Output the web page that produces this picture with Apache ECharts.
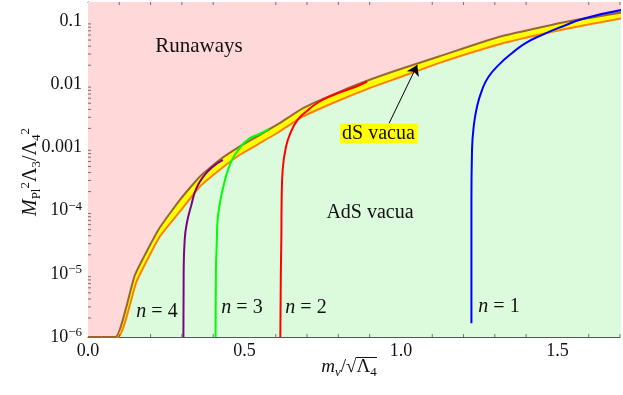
<!DOCTYPE html>
<html>
<head>
<meta charset="utf-8">
<script src="https://cdn.jsdelivr.net/npm/echarts@6/dist/echarts.min.js"></script>
<style>
  html, body { margin: 0; padding: 0; background: #fff; }
  #chart { width: 623px; height: 395px; }
</style>
</head>
<body>
<div id="chart"></div>
<script>
// edges of the dS band: [m / sqrt(Lambda4), M^2 Lambda3 / Lambda4^2]
var upperEdge = [[0, 1e-6], [0.088, 1e-6], [0.150, 9.6e-6], [0.226, 5.06e-5], [0.293, 1.47e-4], [0.357, 3.44e-4],
  [0.420, 6.33e-4], [0.484, 1.03e-3], [0.548, 1.57e-3], [0.611, 2.40e-3], [0.686, 4.16e-3], [0.792, 7.18e-3],
  [0.898, 0.01164], [0.994, 0.0171], [1.121, 0.0274], [1.312, 0.0558], [1.525, 0.0964], [1.704, 0.136]]
var lowerEdge = [[0, 1e-6], [0.0965, 1e-6], [0.155, 7.5e-6], [0.229, 3.86e-5], [0.293, 9.6e-5], [0.357, 2.39e-4],
  [0.420, 4.39e-4], [0.484, 7.59e-4], [0.548, 1.16e-3], [0.611, 1.77e-3], [0.686, 3.06e-3], [0.792, 5.28e-3],
  [0.898, 8.61e-3], [0.994, 0.01276], [1.121, 0.0216], [1.312, 0.0425], [1.525, 0.0746], [1.704, 0.1096]]

// n = 1..4 curves
var curveN4 = [[0.3048, 1e-6], [0.3057, 1.02e-5], [0.3089, 3.43e-5], [0.3153, 6.14e-5], [0.3303, 1.23e-4],
  [0.3462, 2.25e-4], [0.3726, 3.66e-4], [0.3990, 4.95e-4], [0.4309, 6.33e-4]]
var curveN3 = [[0.4076, 1e-6], [0.4086, 1.02e-5], [0.4118, 3.43e-5], [0.4131, 5.92e-5], [0.4204, 1.23e-4],
  [0.4363, 2.86e-4], [0.4576, 5.94e-4], [0.4841, 9.68e-4], [0.5159, 1.39e-3], [0.5478, 1.63e-3], [0.5796, 1.99e-3]]
var curveN2 = [[0.6146, 1e-6], [0.6162, 1.03e-5], [0.6178, 3.43e-5], [0.6188, 1.47e-4], [0.6220, 4.39e-4],
  [0.6328, 1.03e-3], [0.6487, 1.77e-3], [0.6697, 2.72e-3], [0.6965, 3.67e-3], [0.7389, 5.28e-3],
  [0.7920, 7.00e-3], [0.8557, 9.12e-3], [0.8917, 0.01104]]
var curveN1 = [[1.2252, 1.65e-6], [1.2252, 1.47e-4], [1.2271, 9.1e-4], [1.2325, 2.13e-3], [1.243, 4.41e-3],
  [1.259, 8.09e-3], [1.280, 0.01315], [1.3175, 0.0214], [1.3545, 0.0308], [1.397, 0.0443], [1.450, 0.060],
  [1.514, 0.0813], [1.588, 0.1104], [1.704, 0.149]]

// arrow from the "dS vacua" label into the band
var arrowFrom = [0.962, 2.4e-3]
var arrowTo = [1.052, 0.0201]

var xTickLabels = ['0.0', '0.5', '1.0', '1.5']
var yTickLabels = ['{n|10}{sup|\u22126}', '{n|10}{sup|\u22125}', '{n|10}{sup|\u22124}', '{n|0.001}', '{n|0.01}', '{n|0.1}']

var serif = '"Liberation Serif", "DejaVu Serif", serif'

// minor ticks (log decades on y, tenths on x)
var yMinor = []
for (var k = -6; k <= -1; k++) {
  for (var j = 2; j <= 9; j++) {
    var v = j * Math.pow(10, k)
    if (v < 0.2) yMinor.push([0, v])
  }
}
var xMinorBottom = []
var xMinorTop = []
for (var t = 1; t <= 17; t++) {
  if (t % 5 === 0) continue
  xMinorBottom.push([t / 10, 1e-6])
  xMinorTop.push([t / 10, 0.2])
}

var chart = echarts.init(document.getElementById('chart'))

function curve(data, color) {
  return {
    type: 'line', data: data, showSymbol: false, smooth: 0.5, z: 5,
    lineStyle: { color: color, width: 2 }, silent: true
  }
}

function edge(data, z) {
  return { type: 'line', data: data, showSymbol: false, smooth: 0.15, z: z, silent: true }
}

var tickStyle = { color: '#555', width: 1 }

var option = {
  animation: false,
  grid: { left: 88, right: 1, top: 2, bottom: 58 },
  xAxis: [{
    type: 'value', min: 0, max: 1.7, interval: 0.5,
    axisLine: { lineStyle: { color: '#555' } },
    axisTick: { inside: true, length: 5, lineStyle: tickStyle },
    splitLine: { show: false },
    axisLabel: {
      margin: 5, color: '#111', fontSize: 18, fontFamily: serif,
      formatter: function (v) {
        var i = Math.round(v / 0.5)
        return Math.abs(v - i * 0.5) < 1e-6 && xTickLabels[i] ? xTickLabels[i] : ''
      }
    }
  }, {
    type: 'value', min: 0, max: 1.7, interval: 0.5, position: 'top',
    axisLine: { lineStyle: { color: '#555' } },
    axisTick: { inside: true, length: 5, lineStyle: tickStyle },
    splitLine: { show: false },
    axisLabel: { show: false }
  }],
  yAxis: {
    type: 'log', logBase: 10, min: 1e-6, max: 0.2,
    axisLine: { show: true, lineStyle: { color: '#555' } },
    axisTick: { show: true, inside: true, length: 5, lineStyle: tickStyle },
    splitLine: { show: false },
    axisLabel: {
      margin: 6, color: '#111', fontSize: 18, fontFamily: serif,
      formatter: function (v) {
        var lg = Math.log10(v)
        var r = Math.round(lg)
        if (Math.abs(lg - r) > 1e-3) return ''
        return yTickLabels[r + 6] || ''
      },
      rich: {
        n: { fontSize: 18, fontFamily: serif, color: '#111', lineHeight: 22 },
        sup: { fontSize: 13, fontFamily: serif, color: '#111', verticalAlign: 'top', lineHeight: 13 }
      }
    }
  },
  series: [
    // runaway region above the band
    Object.assign(edge(upperEdge, 1), { lineStyle: { opacity: 0 }, areaStyle: { color: '#ffd8d9', origin: 'end', opacity: 1 } }),
    // dS band
    Object.assign(edge(upperEdge, 2), { lineStyle: { opacity: 0 }, areaStyle: { color: '#ffff00', origin: 'start', opacity: 1 } }),
    // AdS region + lower edge
    Object.assign(edge(lowerEdge, 3), { lineStyle: { color: '#ff8000', width: 2 }, areaStyle: { color: '#dcfbdc', origin: 'start', opacity: 1 } }),
    Object.assign(edge(upperEdge, 4), { lineStyle: { color: '#996633', width: 2 } }),
    curve(curveN4, '#800080'),
    curve(curveN3, '#00ff00'),
    curve(curveN2, '#ff0000'),
    curve(curveN1, '#0000ff'),
    {
      type: 'line', data: [], z: 8, silent: true,
      markLine: {
        silent: true, symbol: ['none', 'arrow'], symbolSize: 10,
        label: { show: false },
        lineStyle: { color: '#000', width: 1, type: 'solid' },
        data: [[{ coord: arrowFrom }, { coord: arrowTo }]]
      }
    },
    {
      type: 'scatter', data: yMinor, symbol: 'rect', symbolSize: [3, 1], symbolOffset: [1.5, 0],
      itemStyle: { color: '#555' }, clip: false, silent: true, z: 6
    },
    {
      type: 'scatter', data: xMinorBottom, symbol: 'rect', symbolSize: [1, 3], symbolOffset: [0, -1.5],
      itemStyle: { color: '#555' }, clip: false, silent: true, z: 6
    },
    {
      type: 'scatter', data: xMinorTop, symbol: 'rect', symbolSize: [1, 3], symbolOffset: [0, 1.5],
      itemStyle: { color: '#555' }, clip: false, silent: true, z: 6
    }
  ],
  graphic: [
    {
      type: 'text', x: 199, y: 46, z: 100,
      style: { text: 'Runaways', font: '21px ' + serif, fill: '#111', align: 'center', verticalAlign: 'middle' }
    },
    {
      type: 'text', x: 379, y: 133.5, z: 100,
      style: {
        text: 'dS vacua', font: '20px ' + serif, fill: '#111', align: 'center', verticalAlign: 'middle',
        backgroundColor: '#ffff00', padding: [0, 3, 0, 2]
      }
    },
    {
      type: 'text', x: 370, y: 213, z: 100,
      style: { text: 'AdS vacua', font: '20px ' + serif, fill: '#111', align: 'center', verticalAlign: 'middle' }
    },
    {
      type: 'text', x: 157, y: 312, z: 100,
      style: { text: '{i|n} = 4', font: '20px ' + serif, fill: '#111', align: 'center', verticalAlign: 'middle',
        rich: { i: { fontStyle: 'italic', fontSize: 20, fontFamily: serif } } }
    },
    {
      type: 'text', x: 242, y: 308, z: 100,
      style: { text: '{i|n} = 3', font: '20px ' + serif, fill: '#111', align: 'center', verticalAlign: 'middle',
        rich: { i: { fontStyle: 'italic', fontSize: 20, fontFamily: serif } } }
    },
    {
      type: 'text', x: 306, y: 308, z: 100,
      style: { text: '{i|n} = 2', font: '20px ' + serif, fill: '#111', align: 'center', verticalAlign: 'middle',
        rich: { i: { fontStyle: 'italic', fontSize: 20, fontFamily: serif } } }
    },
    {
      type: 'text', x: 499, y: 307, z: 100,
      style: { text: '{i|n} = 1', font: '20px ' + serif, fill: '#111', align: 'center', verticalAlign: 'middle',
        rich: { i: { fontStyle: 'italic', fontSize: 20, fontFamily: serif } } }
    },
    {
      // x axis title
      type: 'text', x: 349, y: 367, z: 100,
      style: {
        text: '{i|m}{isub|\u03bd}/\u221a\u039b{sub|4}', font: '19px ' + serif, fill: '#111',
        align: 'center', verticalAlign: 'middle', lineHeight: 24,
        rich: {
          i: { fontStyle: 'italic', fontSize: 19, fontFamily: serif, lineHeight: 24 },
          isub: { fontStyle: 'italic', fontSize: 13, fontFamily: serif, verticalAlign: 'bottom', lineHeight: 13 },
          sub: { fontSize: 13, fontFamily: serif, verticalAlign: 'bottom', lineHeight: 13 }
        }
      }
    },
    {
      // bar of the square root
      type: 'line', z: 100,
      shape: { x1: 356, y1: 357.5, x2: 377, y2: 357.5 },
      style: { stroke: '#111', lineWidth: 1 }
    },
    {
      // y axis title
      type: 'text', x: 31, y: 172, z: 100, rotation: Math.PI / 2,
      style: {
        text: '{i|M}{sub|Pl}{sup|2}\u039b{sub|3}/\u039b{sub|4}{sup|2}', font: '20px ' + serif, fill: '#111',
        align: 'center', verticalAlign: 'middle', lineHeight: 24,
        rich: {
          i: { fontStyle: 'italic', fontSize: 20, fontFamily: serif, lineHeight: 24 },
          sub: { fontSize: 13, fontFamily: serif, verticalAlign: 'bottom', lineHeight: 13 },
          sup: { fontSize: 13, fontFamily: serif, verticalAlign: 'top', lineHeight: 13 }
        }
      }
    }
  ]
}

chart.setOption(option)
</script>
</body>
</html>
